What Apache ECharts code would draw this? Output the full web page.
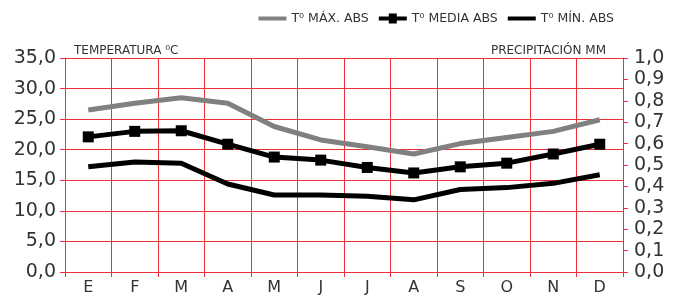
<!DOCTYPE html>
<html>
<head>
<meta charset="utf-8">
<script src="https://cdn.jsdelivr.net/npm/echarts@6/dist/echarts.min.js"></script>
<style>
  html, body { margin: 0; padding: 0; background: #fff; }
  #chart { width: 679px; height: 301px; }
</style>
</head>
<body>
<div id="chart"></div>
<script>
// meses
const months = ['E', 'F', 'M', 'A', 'M', 'J', 'J', 'A', 'S', 'O', 'N', 'D'];
// temperaturas
const tMax = [26.5, 27.6, 28.5, 27.6, 23.8, 21.6, 20.5, 19.3, 21.0, 22.0, 23.0, 24.9];
const tMedia = [22.1, 23.0, 23.1, 20.9, 18.8, 18.3, 17.1, 16.2, 17.2, 17.8, 19.3, 20.9];
const tMin = [17.2, 18.0, 17.8, 14.4, 12.6, 12.6, 12.4, 11.8, 13.5, 13.8, 14.5, 15.9];

const red = '#ee2f3a';
const font = 'DejaVu Sans';
const comma = v => v.toFixed(1).replace('.', ',');

// iconos de la leyenda: solo línea / línea con cuadrado
const lineIcon = 'path://M0,0H28V4H0Z';
const rectLineIcon = 'path://M0,3H10V0H18V3H28V7H18V10H10V7H0Z';

const chart = echarts.init(document.getElementById('chart'));

const option = {
  animation: false,
  textStyle: { fontFamily: font },
  title: [{
    text: 'TEMPERATURA ⁰C',
    left: 69, top: 40,
    textStyle: { fontFamily: font, fontSize: 12, fontWeight: 'normal', color: '#333' }
  }, {
    text: 'PRECIPITACIÓN MM',
    right: 68, top: 40,
    textStyle: { fontFamily: font, fontSize: 12, fontWeight: 'normal', color: '#333' }
  }],
  legend: {
    right: 60, top: 7,
    itemWidth: 28, itemHeight: 10, itemGap: 10,
    textStyle: { fontFamily: font, fontSize: 12.5, color: '#333' },
    data: [
      { name: 'T⁰ MÁX. ABS', icon: lineIcon },
      { name: 'T⁰ MEDIA ABS', icon: rectLineIcon },
      { name: 'T⁰ MÍN. ABS', icon: lineIcon }
    ]
  },
  grid: { left: 65, right: 56, top: 58, bottom: 29 },
  xAxis: {
    type: 'category',
    data: months,
    boundaryGap: true,
    axisLine: { lineStyle: { color: red, width: 1 } },
    axisTick: { show: true, length: 5, lineStyle: { color: red } },
    splitLine: { show: true, lineStyle: { color: red, width: 1 } },
    axisLabel: { color: '#333', fontSize: 16, margin: 8, fontFamily: font }
  },
  yAxis: [{
    type: 'value',
    min: 0, max: 35, interval: 5,
    axisLine: { show: true, lineStyle: { color: red } },
    axisTick: { show: true, length: 5, lineStyle: { color: red } },
    splitLine: { show: true, lineStyle: { color: red, width: 1 } },
    axisLabel: { color: '#333', fontSize: 19, margin: 9, fontFamily: font, formatter: comma }
  }, {
    type: 'value',
    min: 0, max: 1, interval: 0.1,
    position: 'right',
    axisLine: { show: true, lineStyle: { color: red } },
    axisTick: { show: true, length: 5, lineStyle: { color: red } },
    splitLine: { show: false },
    axisLabel: { color: '#333', fontSize: 19, margin: 11, fontFamily: font, formatter: comma }
  }],
  series: [{
    name: 'T⁰ MÁX. ABS',
    type: 'line',
    data: tMax,
    symbol: 'none',
    lineStyle: { color: '#808080', width: 5 },
    itemStyle: { color: '#808080' }
  }, {
    name: 'T⁰ MEDIA ABS',
    type: 'line',
    data: tMedia,
    symbol: 'rect',
    symbolSize: 11,
    lineStyle: { color: '#000', width: 5 },
    itemStyle: { color: '#000' }
  }, {
    name: 'T⁰ MÍN. ABS',
    type: 'line',
    data: tMin,
    symbol: 'none',
    lineStyle: { color: '#000', width: 5 },
    itemStyle: { color: '#000' }
  }]
};

chart.setOption(option);
window.addEventListener('resize', () => chart.resize());
</script>
</body>
</html>
